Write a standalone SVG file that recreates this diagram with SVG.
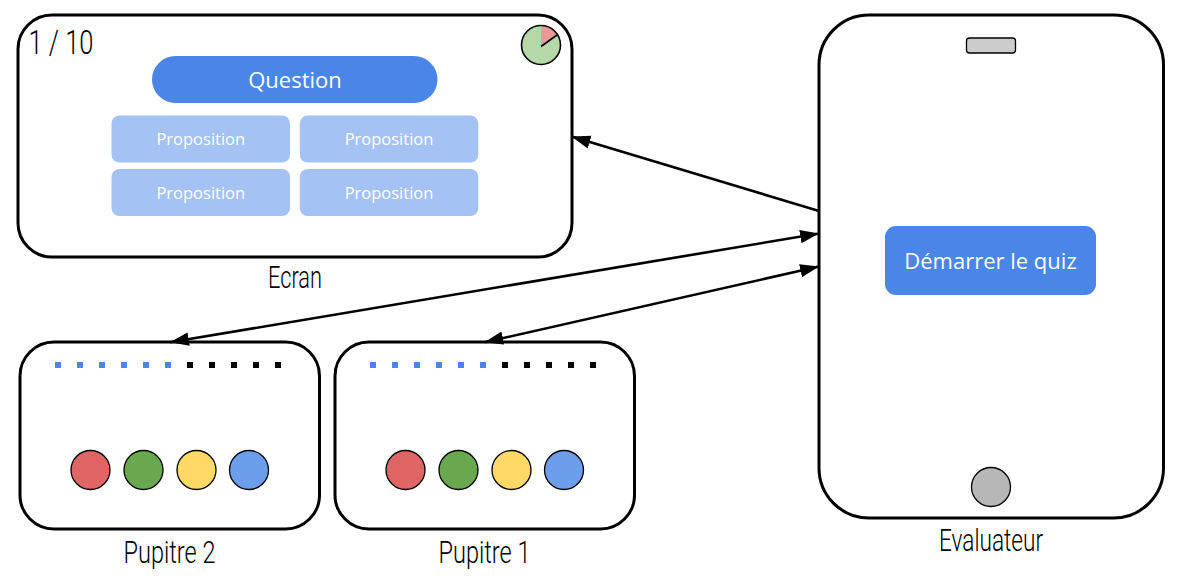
<svg xmlns="http://www.w3.org/2000/svg" width="1197" height="582" viewBox="0 0 1197 582">
<defs>
<marker id="arrow" markerUnits="userSpaceOnUse" markerWidth="20" markerHeight="14" refX="17" refY="6" orient="auto-start-reverse" viewBox="0 0 18 12"><path d="M0 0L17 6L0 12z" fill="#000"/></marker>
</defs>
<style>
.box{fill:#fff;stroke:#000;stroke-width:3}
.label{font-family:"Roboto","Liberation Sans",sans-serif;font-weight:300;fill:#000;text-anchor:middle}
.ui{font-family:"Open Sans","Noto Sans",sans-serif;fill:#fff;text-anchor:middle}
.prop{fill:#a4c2f4}
.blue{fill:#4a86e8}
.conn{fill:none;stroke:#000;stroke-width:2.6;marker-end:url(#arrow)}
.dot{stroke:#000;stroke-width:1.3}
</style>
<rect width="1197" height="582" fill="#fff"/>
<g id="ecran">
<rect class="box" x="18" y="15" width="554" height="242" rx="34"/>
<text class="label" x="61" y="54" font-size="33" textLength="65" lengthAdjust="spacingAndGlyphs">1 / 10</text>
<circle cx="541" cy="45" r="19.500" fill="#b6d7a8"/>
<path d="M541 46.500V25.500A19.500 19.500 0 0 1 557 34.500z" fill="#ea9999"/>
<path d="M541 46.500L557 35" stroke="#000" stroke-width="1.600"/>
<circle cx="541" cy="45" r="19.500" fill="none" stroke="#000" stroke-width="1.600"/>
<rect class="blue" x="152" y="56" width="285.500" height="47" rx="23.500"/>
<text class="ui" x="295" y="88" font-size="22">Question</text>
<rect class="prop" x="111.500" y="115.500" width="178.500" height="47" rx="8"/>
<text class="ui" x="200.800" y="145" font-size="16.500">Proposition</text>
<rect class="prop" x="299.800" y="115.500" width="178.500" height="47" rx="8"/>
<text class="ui" x="389" y="145" font-size="16.500">Proposition</text>
<rect class="prop" x="111.500" y="169" width="178.500" height="47" rx="8"/>
<text class="ui" x="200.800" y="199" font-size="16.500">Proposition</text>
<rect class="prop" x="299.800" y="169" width="178.500" height="47" rx="8"/>
<text class="ui" x="389" y="199" font-size="16.500">Proposition</text>
<text class="label" x="295" y="288" font-size="31" textLength="54" lengthAdjust="spacingAndGlyphs">Ecran</text>
</g>
<g id="pupitre2">
<rect class="box" x="20" y="342" width="299.500" height="187" rx="34"/>
<g class="blue"><rect x="55" y="362" width="6" height="6"/><rect x="77" y="362" width="6" height="6"/><rect x="99" y="362" width="6" height="6"/><rect x="121" y="362" width="6" height="6"/><rect x="143" y="362" width="6" height="6"/><rect x="165" y="362" width="6" height="6"/></g>
<g><rect x="187" y="362" width="6" height="6"/><rect x="209" y="362" width="6" height="6"/><rect x="231" y="362" width="6" height="6"/><rect x="253" y="362" width="6" height="6"/><rect x="275" y="362" width="6" height="6"/></g>
<circle class="dot" cx="90.500" cy="470" r="19.500" fill="#e06666"/>
<circle class="dot" cx="143.500" cy="470" r="19.500" fill="#6aa84f"/>
<circle class="dot" cx="196.500" cy="470" r="19.500" fill="#ffd966"/>
<circle class="dot" cx="249" cy="470" r="19.500" fill="#6d9eeb"/>
<text class="label" x="169.500" y="563" font-size="31" textLength="92" lengthAdjust="spacingAndGlyphs">Pupitre 2</text>
</g>
<g id="pupitre1">
<rect class="box" x="335" y="342" width="299.500" height="187" rx="34"/>
<g class="blue"><rect x="370" y="362" width="6" height="6"/><rect x="392" y="362" width="6" height="6"/><rect x="414" y="362" width="6" height="6"/><rect x="436" y="362" width="6" height="6"/><rect x="458" y="362" width="6" height="6"/><rect x="480" y="362" width="6" height="6"/></g>
<g><rect x="502" y="362" width="6" height="6"/><rect x="524" y="362" width="6" height="6"/><rect x="546" y="362" width="6" height="6"/><rect x="568" y="362" width="6" height="6"/><rect x="590" y="362" width="6" height="6"/></g>
<circle class="dot" cx="405.500" cy="470" r="19.500" fill="#e06666"/>
<circle class="dot" cx="458.500" cy="470" r="19.500" fill="#6aa84f"/>
<circle class="dot" cx="511.500" cy="470" r="19.500" fill="#ffd966"/>
<circle class="dot" cx="564" cy="470" r="19.500" fill="#6d9eeb"/>
<text class="label" x="484.500" y="563" font-size="31" textLength="92" lengthAdjust="spacingAndGlyphs">Pupitre 1</text>
</g>
<g id="evaluateur">
<rect class="box" x="819" y="15" width="344.500" height="503" rx="50"/>
<rect x="966.500" y="38" width="49" height="15" rx="3" fill="#cccccc" stroke="#000" stroke-width="1.300"/>
<circle cx="991" cy="487" r="19.500" fill="#b7b7b7" stroke="#000" stroke-width="1.300"/>
<rect class="blue" x="885" y="226" width="211" height="69" rx="11"/>
<text class="ui" x="990.500" y="269" font-size="22">Démarrer le quiz</text>
<text class="label" x="991" y="551" font-size="31" textLength="104" lengthAdjust="spacingAndGlyphs">Evaluateur</text>
</g>
<g id="connectors">
<path class="conn" d="M819 211L571.500 136.600"/>
<path class="conn" style="marker-start:url(#arrow)" d="M170 342.300L819 233.500"/>
<path class="conn" style="marker-start:url(#arrow)" d="M484.500 342.300L819 266.500"/>
</g>
</svg>
